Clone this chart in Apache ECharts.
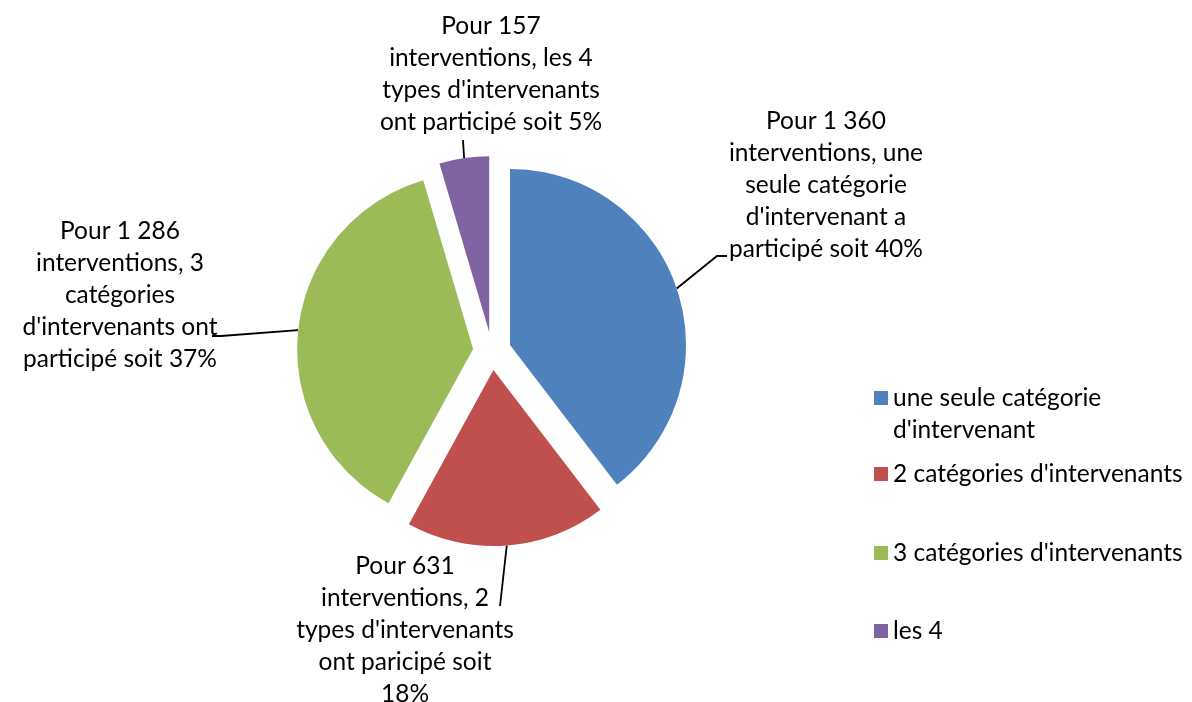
<!DOCTYPE html>
<html lang="fr">
<head>
<meta charset="UTF-8">
<title>Interventions</title>
<script src="https://cdn.jsdelivr.net/npm/echarts@6/dist/echarts.min.js"></script>
<style>
  html, body { margin: 0; padding: 0; background: #fff; }
  #chart { width: 1192px; height: 702px; }
</style>
</head>
<body>
<div id="chart"></div>
<script>
// données
var categories = ["une seule catégorie d'intervenant", "2 catégories d'intervenants", "3 catégories d'intervenants", "les 4"];
var counts = [1360, 631, 1286, 157];
var labelTexts = [
  "Pour 1 360\ninterventions, une\nseule catégorie\nd'intervenant a\nparticipé soit 40%",
  "Pour 631\ninterventions, 2\ntypes d'intervenants\nont paricipé soit\n18%",
  "Pour 1 286\ninterventions, 3\ncatégories\nd'intervenants ont\nparticipé soit 37%",
  "Pour 157\ninterventions, les 4\ntypes d'intervenants\nont participé soit 5%"
];
var colors = ['#4F81BD', '#C0504D', '#9BBB59', '#8064A2'];

// position des étiquettes (centre du bloc) et coudes des traits
var labelPos = [[826, 185], [405, 630], [120, 295], [491, 74]];
var lineEnds = [
  [[717, 256], [727, 256]],
  [[500, 606], [500, 606]],
  [[221, 336], [212, 336]],
  [[463, 140], [463, 140]]
];

var pieCenter = [492, 351];
var pieRadius = 176;
var explode = 19;
var fontSize = 24.5;

var chart = echarts.init(document.getElementById('chart'));

var pieData = [];
var labelData = [];
for (var i = 0; i < counts.length; i++) {
  pieData.push({ name: categories[i], value: counts[i], selected: true, itemStyle: { color: colors[i] } });
  labelData.push({ name: categories[i], value: counts[i] });
}

var legends = [];
var legendTops = [350, 458, 537, 615];
for (var j = 0; j < categories.length; j++) {
  legends.push({
    data: [categories[j]],
    orient: 'vertical',
    left: 874,
    top: legendTops[j],
    padding: 0,
    icon: 'rect',
    itemWidth: 14,
    itemHeight: 14,
    selectedMode: false,
    formatter: function (name) {
      if (name === categories[0]) return "\nune seule catégorie\nd'intervenant";
      return name;
    },
    textStyle: { fontFamily: 'Lato', fontSize: fontSize, lineHeight: 32, color: '#000' }
  });
}

var option = {
  animation: false,
  legend: legends,
  series: [{
    // secteurs détachés
    type: 'pie',
    center: pieCenter,
    radius: pieRadius,
    startAngle: 90,
    clockwise: true,
    selectedMode: 'multiple',
    selectedOffset: explode,
    emphasis: { disabled: true },
    label: { show: false },
    labelLine: { show: false },
    data: pieData
  }, {
    // étiquettes : cercle invisible au rayon extérieur des secteurs détachés
    type: 'pie',
    silent: true,
    center: pieCenter,
    radius: pieRadius + explode,
    startAngle: 90,
    clockwise: true,
    emphasis: { disabled: true },
    itemStyle: { color: 'rgba(0,0,0,0)', borderWidth: 0 },
    data: labelData,
    label: {
      show: true,
      position: 'outside',
      formatter: function (p) { return labelTexts[p.dataIndex]; },
      fontFamily: 'Lato',
      fontSize: fontSize,
      lineHeight: 32,
      color: '#000',
      align: 'center'
    },
    labelLine: {
      show: true,
      length: 20,
      length2: 10,
      lineStyle: { color: '#000', width: 1.8 }
    },
    labelLayout: function (params) {
      var k = params.dataIndex;
      var res = { x: labelPos[k][0], y: labelPos[k][1], align: 'center', verticalAlign: 'middle' };
      if (params.labelLinePoints) {
        res.labelLinePoints = [params.labelLinePoints[0], lineEnds[k][0], lineEnds[k][1]];
      }
      return res;
    }
  }]
};
chart.setOption(option);
</script>
</body>
</html>
